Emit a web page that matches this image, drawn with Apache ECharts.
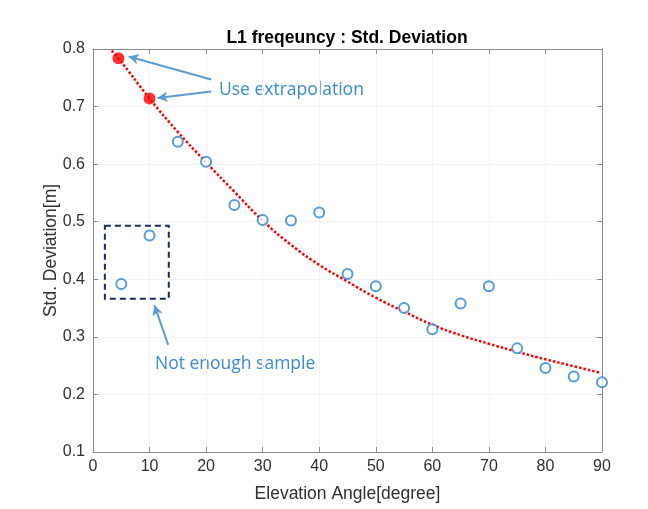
<!DOCTYPE html>
<html><head><meta charset="utf-8">
<script src="https://cdn.jsdelivr.net/npm/echarts@6/dist/echarts.min.js"></script>
<style>html,body{margin:0;padding:0;background:#fff}#c{width:648px;height:509px}</style>
</head><body><div id="c"></div>
<script>
// measured samples (elevation angle, std deviation)
const sampleAngles = [5, 10, 15, 20, 25, 30, 35, 40, 45, 50, 55, 60, 65, 70, 75, 80, 85, 90];
const sampleStd    = [0.392, 0.476, 0.639, 0.604, 0.529, 0.503, 0.502, 0.516, 0.409, 0.388, 0.350, 0.313, 0.358, 0.388, 0.280, 0.246, 0.231, 0.221];
// extrapolated points
const extraAngles = [4.5, 10];
const extraStd    = [0.784, 0.714];
// fitted curve
const fitAngles = [3.3, 4.5, 10, 15, 20, 25, 30, 35, 40, 45, 50, 55, 60, 65, 70, 75, 80, 85, 89.5];
const fitStd    = [0.797, 0.784, 0.714, 0.656, 0.603, 0.552, 0.502, 0.460, 0.425, 0.396, 0.368, 0.344, 0.321, 0.303, 0.288, 0.274, 0.261, 0.249, 0.238];
const xTicks = [0, 90, 10];
const yTicks = [0.1, 0.8, 0.1];

const toPairs = (a, b) => a.map((v, i) => [v, b[i]]);
const axisGray = '#8c8c8c';
const textCol = '#303030';
const annBlue = '#3a8ad3';
const arrowBlue = '#5b9bd5';

const chart = echarts.init(document.getElementById('c'), null, {renderer: 'canvas'});
const baseX = {type: 'value', min: xTicks[0], max: xTicks[1], interval: xTicks[2]};
const baseY = {type: 'value', min: yTicks[0], max: yTicks[1], interval: yTicks[2]};
chart.setOption({
  animation: false,
  title: {text: 'L1 freqeuncy : Std. Deviation', left: 342, top: 24, textAlign: 'center',
    textStyle: {fontFamily: 'Liberation Sans', fontSize: 17.5, fontWeight: 'bold', color: '#000'}},
  grid: {left: 93, right: 46, top: 49, bottom: 57, containLabel: false},
  xAxis: [
    Object.assign({}, baseX, {position: 'bottom', name: 'Elevation Angle[degree]', nameLocation: 'middle', nameGap: 33,
      nameTextStyle: {fontFamily: 'Liberation Sans', fontSize: 17.5, color: textCol},
      axisLine: {show: true, lineStyle: {color: axisGray, width: 1}},
      axisTick: {show: true, inside: true, length: 5, lineStyle: {color: axisGray}},
      axisLabel: {fontFamily: 'Liberation Sans', fontSize: 16, color: textCol, margin: 7},
      splitLine: {show: true, lineStyle: {color: '#f3f3f3', width: 1}}}),
    Object.assign({}, baseX, {position: 'top',
      axisLine: {show: true, onZero: false, lineStyle: {color: axisGray, width: 1}},
      axisTick: {show: true, inside: true, length: 5, lineStyle: {color: axisGray}},
      axisLabel: {show: false}, splitLine: {show: false}})
  ],
  yAxis: [
    Object.assign({}, baseY, {position: 'left', name: 'Std. Deviation[m]', nameLocation: 'middle', nameGap: 33,
      nameMoveOverlap: false,
      nameTextStyle: {fontFamily: 'Liberation Sans', fontSize: 17.5, color: textCol},
      axisLine: {show: true, lineStyle: {color: axisGray, width: 1}},
      axisTick: {show: true, inside: true, length: 5, lineStyle: {color: axisGray}},
      axisLabel: {fontFamily: 'Liberation Sans', fontSize: 16, color: textCol, margin: 8,
        formatter: v => v.toFixed(1)},
      splitLine: {show: true, lineStyle: {color: '#f3f3f3', width: 1}}}),
    Object.assign({}, baseY, {position: 'right',
      axisLine: {show: true, onZero: false, lineStyle: {color: axisGray, width: 1}},
      axisTick: {show: true, inside: true, length: 5, lineStyle: {color: axisGray}},
      axisLabel: {show: false}, splitLine: {show: false}})
  ],
  series: [
    {type: 'line', data: toPairs(fitAngles, fitStd), smooth: true, showSymbol: false, symbol: 'none',
      lineStyle: {color: '#ff0000', width: 2.5, type: [2.5, 2]}, z: 2,
      markArea: {silent: true, itemStyle: {color: 'rgba(0,0,0,0)', borderColor: '#1c2b63', borderWidth: 2, borderType: [6, 4]},
        data: [[{coord: [2.1, 0.493]}, {coord: [13.4, 0.366]}]]},
      markLine: {silent: true, symbol: ['none', 'arrow'], symbolSize: [8, 10],
        lineStyle: {color: arrowBlue, width: 2, type: 'solid'}, label: {show: false},
        data: [
          [{coord: [20.9, 0.747]}, {coord: [6.3, 0.787]}],
          [{coord: [20.9, 0.726]}, {coord: [11.4, 0.715]}],
          [{coord: [13.3, 0.286]}, {coord: [10.85, 0.355]}]
        ]}},
    {type: 'scatter', data: toPairs(sampleAngles, sampleStd), symbol: 'emptyCircle', symbolSize: 10,
      itemStyle: {color: '#2b84d0', borderColor: '#2b84d0', borderWidth: 1.5}, z: 3},
    {type: 'scatter', data: toPairs(extraAngles, extraStd), symbol: 'circle', symbolSize: 12,
      itemStyle: {color: '#ff0000'}, z: 4}
  ],
  graphic: [
    {type: 'text', left: 219, top: 81, style: {text: 'Use extrapolation', font: '17.5px "Open Sans"', fill: annBlue}},
    {type: 'text', left: 155, top: 355, style: {text: 'Not enough sample', font: '17.5px "Open Sans"', fill: annBlue}}
  ]
});
</script></body></html>
